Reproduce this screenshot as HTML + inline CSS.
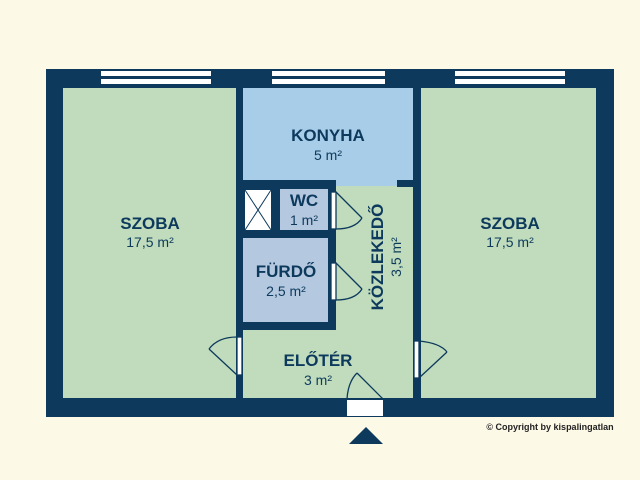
<!DOCTYPE html>
<html><head><meta charset="utf-8"><style>
body{margin:0;background:#fdf9e7;}
svg{display:block}
text{font-family:"Liberation Sans",sans-serif;fill:#0d3a5c;text-anchor:middle}
.b{font-weight:bold;font-size:17px}
.s{font-size:14px}
</style></head><body>
<svg width="640" height="480" viewBox="0 0 640 480">
<rect width="640" height="480" fill="#fdf9e7"/>
<rect x="46" y="69" width="568" height="348" fill="#0d3a5c"/>
<rect x="63" y="88" width="173" height="310" fill="#c0dcbc"/>
<rect x="421" y="88" width="175" height="310" fill="#c0dcbc"/>
<rect x="243" y="88" width="170" height="310" fill="#c0dcbc"/>
<rect x="243" y="88" width="170" height="98" fill="#a8cde8"/>
<rect x="236" y="180" width="100" height="8" fill="#0d3a5c"/>
<rect x="397" y="180" width="16" height="7" fill="#0d3a5c"/>
<rect x="328" y="180" width="8" height="150" fill="#0d3a5c"/>
<rect x="236" y="322" width="100" height="8" fill="#0d3a5c"/>
<rect x="243" y="188" width="85" height="134" fill="#0d3a5c"/>
<rect x="245" y="190" width="26" height="40" fill="#fff"/>
<path d="M245 190L271 230M271 190L245 230" stroke="#0d3a5c" stroke-width="1"/>
<rect x="280" y="189" width="48" height="41" fill="#b4c8e0"/>
<rect x="243" y="238" width="85" height="84" fill="#b4c8e0"/>
<!-- windows -->
<g fill="#fff"><rect x="101" y="71" width="110" height="5"/><rect x="101" y="79" width="110" height="5"/>
<rect x="272" y="71" width="113" height="5"/><rect x="272" y="79" width="113" height="5"/>
<rect x="455" y="71" width="110" height="5"/><rect x="455" y="79" width="110" height="5"/></g>
<!-- doors -->
<g fill="none" stroke="#0d3a5c" stroke-width="1.3">
<rect x="331" y="192" width="5" height="37" fill="#fff"/>
<path d="M336 192L362 218M336 229Q355 229 362 218"/>
<rect x="331" y="263" width="5" height="37" fill="#fff"/>
<path d="M336 263L362 289M336 300Q355 300 362 289"/>
<rect x="237" y="337" width="5" height="38" fill="#fff"/>
<path d="M237 375L209 349M237 337Q218 337 209 349"/>
<rect x="414" y="341" width="5" height="37" fill="#fff"/>
<path d="M419 378L447 352M419 341Q440 343 447 352"/>
<rect x="347" y="400" width="36" height="16" fill="#fff" stroke="none"/>
<path d="M383 399L357 373M347 399Q348 382 357 373"/>
</g>
<polygon points="349,444 366,427 383,444" fill="#0d3a5c"/>
<text class="b" x="150" y="229">SZOBA</text><text class="s" x="150" y="247">17,5 m²</text>
<text class="b" x="510" y="229">SZOBA</text><text class="s" x="510" y="247">17,5 m²</text>
<text class="b" x="328" y="141">KONYHA</text><text class="s" x="328" y="160">5 m²</text>
<text class="b" x="304" y="206">WC</text><text class="s" x="304" y="225">1 m²</text>
<text class="b" x="286" y="277">FÜRDŐ</text><text class="s" x="286" y="296">2,5 m²</text>
<text class="b" x="318" y="366">ELŐTÉR</text><text class="s" x="318" y="385">3 m²</text>
<text class="b" transform="translate(383,257) rotate(-90)">KÖZLEKEDŐ</text>
<text class="s" transform="translate(401,257) rotate(-90)">3,5 m²</text>
<text x="550" y="430" style="font-size:9px;font-weight:bold;fill:#222">© Copyright by kispalingatlan</text>
</svg>
</body></html>
